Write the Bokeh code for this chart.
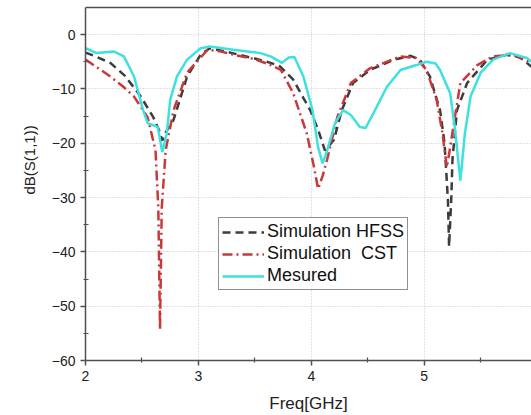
from bokeh.plotting import figure
from bokeh.models import LinearAxis, Legend, LegendItem, Range1d, FixedTicker, Title
from bokeh.embed import file_html
from bokeh.resources import INLINE

# ---- data ----
freq_hfss = [2.0, 2.1, 2.22, 2.35, 2.49, 2.6, 2.65, 2.68, 2.71, 2.78, 2.9, 3.02, 3.1, 3.3, 3.5,
             3.64, 3.72, 3.84, 3.99, 4.06, 4.12, 4.2, 4.27, 4.37, 4.52, 4.73, 4.88, 4.96, 5.05,
             5.14, 5.18, 5.21, 5.22, 5.24, 5.25, 5.29, 5.38, 5.56, 5.73, 5.85, 5.95]
s11_hfss = [-3.3, -4.1, -5.2, -7.6, -11.4, -15.2, -17.5, -19.5, -18.0, -15.7, -7.7, -3.7, -2.5,
            -3.4, -4.4, -5.2, -5.8, -8.3, -13.9, -17.5, -21.3, -19.4, -13.9, -8.9, -6.5, -4.6,
            -3.9, -4.6, -7.7, -13.9, -20.0, -30.5, -39.0, -30.0, -23.0, -13.9, -8.9, -4.6, -3.7,
            -4.2, -5.9]

freq_cst = [2.0, 2.1, 2.22, 2.33, 2.43, 2.55, 2.62, 2.645, 2.66, 2.675, 2.71, 2.78, 2.9, 3.08,
            3.2, 3.31, 3.5, 3.64, 3.73, 3.84, 3.96, 4.02, 4.06, 4.1, 4.14, 4.23, 4.35, 4.52, 4.79,
            4.93, 5.02, 5.11, 5.16, 5.2, 5.22, 5.25, 5.32, 5.47, 5.61, 5.79, 5.95]
s11_cst = [-4.6, -6.0, -7.7, -9.5, -11.4, -15.2, -21.3, -32.0, -54.3, -32.0, -21.3, -13.9, -7.0,
           -2.8, -3.1, -3.7, -4.5, -5.6, -6.5, -10.8, -18.2, -24.0, -28.4, -26.0, -23.0, -15.2,
           -8.9, -6.2, -4.0, -4.3, -6.5, -12.0, -18.0, -24.4, -22.0, -18.0, -8.9, -5.6, -4.0,
           -3.7, -5.2]

freq_meas = [2.0, 2.1, 2.25, 2.34, 2.43, 2.51, 2.55, 2.64, 2.68, 2.72, 2.75, 2.81, 2.9, 3.02,
             3.1, 3.31, 3.55, 3.64, 3.74, 3.8, 3.85, 3.93, 4.01, 4.06, 4.1, 4.14, 4.21, 4.28,
             4.35, 4.43, 4.48, 4.55, 4.67, 4.79, 4.93, 5.02, 5.1, 5.14, 5.23, 5.27, 5.32, 5.36,
             5.41, 5.5, 5.61, 5.76, 5.91, 5.95]
s11_meas = [-2.5, -3.4, -3.1, -4.0, -7.7, -13.9, -16.3, -17.0, -21.6, -18.2, -12.0, -7.7, -4.6,
            -2.5, -2.2, -2.8, -3.4, -4.0, -5.2, -4.2, -4.1, -7.7, -13.9, -20.7, -23.7, -21.3,
            -16.3, -13.9, -14.8, -17.0, -17.2, -14.5, -9.6, -6.5, -5.6, -5.0, -5.3, -6.5, -10.8,
            -17.0, -26.9, -18.2, -11.4, -7.0, -4.6, -3.4, -4.3, -5.0]

series_names = ["Simulation HFSS", "Simulation  CST", "Mesured"]
x_label = "Freq[GHz]"
y_label = "dB(S(1,1))"
x_major = [2, 3, 4, 5]
x_minor = [2.5, 3.5, 4.5, 5.5]
y_major = [-60, -50, -40, -30, -20, -10, 0]
y_minor = [-55, -45, -35, -25, -15, -5]

FONT = "Liberation Sans"
AX = "#505050"

p = figure(width=531, height=415, output_backend="svg", toolbar_location=None,
           x_range=Range1d(2, 5.95), y_range=Range1d(-60, 5),
           min_border_left=85, min_border_right=0, min_border_top=7, min_border_bottom=55)
p.outline_line_color = None
p.background_fill_color = "white"

bottom = p.below[0]
left = p.left[0]

xticker = FixedTicker(ticks=x_major, minor_ticks=x_minor)
yticker = FixedTicker(ticks=y_major, minor_ticks=y_minor)
bottom.ticker = xticker
left.ticker = yticker
p.xgrid[0].ticker = xticker
p.ygrid[0].ticker = yticker

for ax in (bottom, left):
    ax.axis_line_color = AX
    ax.axis_line_width = 1.5
    ax.major_tick_line_color = AX
    ax.major_tick_line_width = 1.5
    ax.major_tick_out = 5
    ax.major_tick_in = 0
    ax.minor_tick_line_color = AX
    ax.minor_tick_line_width = 1.2
    ax.minor_tick_out = 2
    ax.minor_tick_in = 3
    ax.major_label_text_font = FONT
    ax.major_label_text_font_size = "14px"
    ax.major_label_text_color = "#222222"
    ax.axis_label_text_font = FONT
    ax.axis_label_text_font_size = "17px"
    ax.axis_label_text_font_style = "normal"
    ax.axis_label_text_color = "#222222"
    ax.major_label_standoff = 5

bottom.axis_label = x_label
bottom.axis_label_standoff = 10

# y-axis title as a left-side Title, placed above the frame centre as in the reference
ytitle = Title(text=y_label, align="left", offset=166, standoff=22,
               text_font=FONT, text_font_size="15px", text_font_style="normal",
               text_color="#222222")
p.add_layout(ytitle, "left")

# top border line via an "above" axis without ticks/labels
top = LinearAxis(ticker=FixedTicker(ticks=[]),
                 major_tick_out=0, major_tick_in=0, minor_tick_out=0, minor_tick_in=0,
                 major_label_text_font_size="0px", major_label_standoff=0,
                 axis_line_color=AX, axis_line_width=1.5)
p.add_layout(top, "above")

for g in (p.xgrid[0], p.ygrid[0]):
    g.grid_line_color = "#c4c4c4"
    g.grid_line_dash = "1 2"
    g.grid_line_width = 1

r1 = p.line(freq_hfss, s11_hfss, line_color="#3c3c3c", line_width=2.5, line_dash="8 5")
r2 = p.line(freq_cst, s11_cst, line_color="#c9383b", line_width=2.5, line_dash="10 4 2 4")
r3 = p.line(freq_meas, s11_meas, line_color="#3ee0e0", line_width=2.5)

legend = Legend(items=[LegendItem(label=series_names[0], renderers=[r1]),
                       LegendItem(label=series_names[1], renderers=[r2]),
                       LegendItem(label=series_names[2], renderers=[r3])],
                location=(133, 70), orientation="vertical")
legend.label_text_font = FONT
legend.label_text_font_size = "18px"
legend.label_text_color = "#111111"
legend.border_line_color = "#222222"
legend.border_line_width = 1
legend.background_fill_alpha = 1
legend.glyph_width = 42
legend.glyph_height = 20
legend.label_height = 20
legend.label_standoff = 3
legend.spacing = 1
legend.padding = 3
legend.margin = 0
p.add_layout(legend, "center")

open("out.html", "w").write(file_html(p, INLINE))
